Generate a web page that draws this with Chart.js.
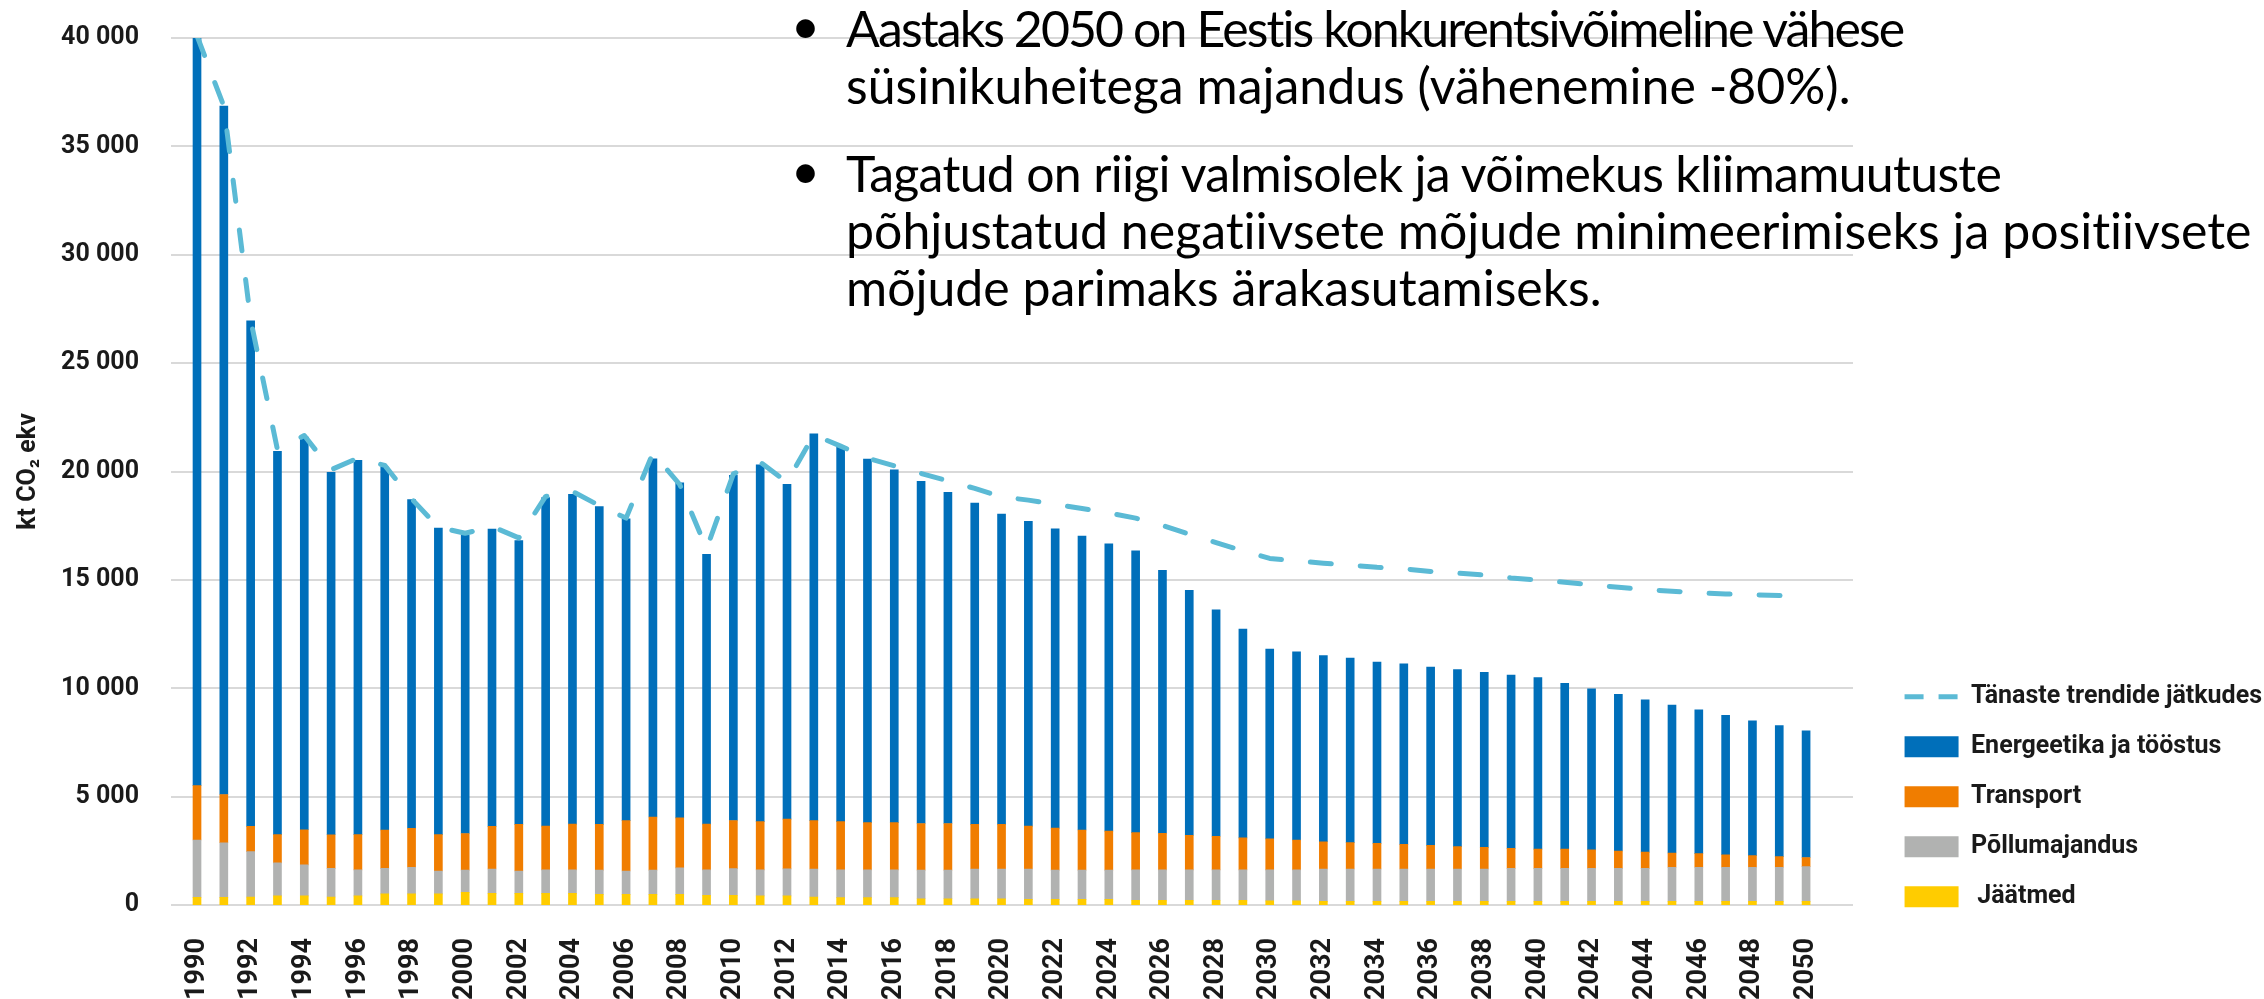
<!DOCTYPE html>
<html lang="et">
<head>
<meta charset="utf-8">
<title>Kasvuhoonegaaside heide</title>
<script src="https://cdn.jsdelivr.net/npm/chart.js@4.4.1/dist/chart.umd.min.js"></script>
<style>
  html, body { margin: 0; padding: 0; background: #fff; overflow: hidden; }
  #wrap { position: relative; width: 2264px; height: 999px; }
  .note { position: absolute; left: 0; font-family: Lato, 'Open Sans', sans-serif; font-size: 50px; line-height: 57px; color: #000; white-space: nowrap; font-variant-ligatures: none; }
  .note .dot { position: absolute; left: 791px; top: -3px; }
  .note .txt { position: absolute; left: 846px; top: 0; }
  .note .tight { letter-spacing: -1.9px; }
  .note .snug { letter-spacing: -0.7px; }
</style>
</head>
<body>
<div id="wrap">
  <canvas id="chart"></canvas>
  <div class="note" style="top:0px">
    <span class="dot">•</span>
    <div class="txt">
      <div class="tight">Aastaks 2050 on Eestis konkurentsivõimeline vähese</div>
      <div>süsinikuheitega majandus (vähenemine -80%).</div>
    </div>
  </div>
  <div class="note" style="top:145px">
    <span class="dot">•</span>
    <div class="txt">
      <div class="snug">Tagatud on riigi valmisolek ja võimekus kliimamuutuste</div>
      <div>põhjustatud negatiivsete mõjude minimeerimiseks ja positiivsete</div>
      <div>mõjude parimaks ärakasutamiseks.</div>
    </div>
  </div>
</div>
<script>
    "use strict";

    const years = [1990, 1991, 1992, 1993, 1994, 1995, 1996, 1997, 1998, 1999,
        2000, 2001, 2002, 2003, 2004, 2005, 2006, 2007, 2008, 2009,
        2010, 2011, 2012, 2013, 2014, 2015, 2016, 2017, 2018, 2019,
        2020, 2021, 2022, 2023, 2024, 2025, 2026, 2027, 2028, 2029,
        2030, 2031, 2032, 2033, 2034, 2035, 2036, 2037, 2038, 2039,
        2040, 2041, 2042, 2043, 2044, 2045, 2046, 2047, 2048, 2049,
        2050];

    const tickYears = [1990, 1992, 1994, 1996, 1998, 2000, 2002, 2004, 2006, 2008,
        2010, 2012, 2014, 2016, 2018, 2020, 2022, 2024, 2026, 2028,
        2030, 2032, 2034, 2036, 2038, 2040, 2042, 2044, 2046, 2048, 2050];

    const yTicks = [0, 5000, 10000, 15000, 20000, 25000, 30000, 35000, 40000];

    // kt CO2 ekv
    const energy = [34490, 31760, 23320, 17680, 18120, 16720, 17260, 16740, 15160, 14140,
        13770, 13710, 13090, 15160, 15220, 14660, 13930, 16520, 15460, 12450,
        15920, 16460, 15450, 17850, 17290, 16770, 16280, 15790, 15280, 14820,
        14310, 14060, 13800, 13560, 13250, 13000, 12130, 11300, 10450, 9630,
        8760, 8680, 8590, 8510, 8370, 8330, 8230, 8170, 8080, 8000,
        7910, 7650, 7430, 7230, 7020, 6820, 6630, 6430, 6220, 6050,
        5850];

    const transport = [2510, 2230, 1170, 1310, 1620, 1550, 1630, 1770, 1800, 1680,
        1690, 1970, 2150, 2020, 2110, 2110, 2320, 2450, 2310, 2110,
        2220, 2230, 2290, 2230, 2230, 2180, 2180, 2150, 2150, 2060,
        2060, 1980, 1940, 1850, 1800, 1720, 1690, 1600, 1550, 1480,
        1430, 1380, 1260, 1220, 1180, 1140, 1090, 1030, 1000, 920,
        890, 890, 850, 800, 750, 660, 630, 580, 540, 490,
        420];

    const agriculture = [2650, 2520, 2090, 1520, 1430, 1320, 1200, 1180, 1230, 1060,
        1030, 1120, 1030, 1080, 1080, 1120, 1080, 1120, 1220, 1170,
        1230, 1200, 1250, 1290, 1280, 1280, 1280, 1320, 1320, 1370,
        1370, 1400, 1350, 1350, 1350, 1400, 1400, 1400, 1400, 1400,
        1430, 1430, 1490, 1490, 1490, 1490, 1490, 1490, 1490, 1520,
        1520, 1520, 1520, 1520, 1520, 1570, 1570, 1570, 1570, 1570,
        1600];

    const waste = [350, 350, 370, 420, 420, 370, 420, 510, 510, 510,
        580, 540, 540, 540, 540, 490, 490, 490, 490, 450,
        450, 420, 420, 370, 340, 340, 340, 290, 290, 290,
        290, 260, 260, 260, 260, 220, 220, 220, 220, 220,
        190, 190, 170, 170, 170, 170, 170, 170, 170, 170,
        170, 170, 170, 170, 170, 170, 170, 170, 170, 170,
        170];

    const trend = [40100, 36850, 27000, 21000, 21660, 20080, 20620, 20280, 18740, 17430,
        17150, 17460, 16940, 18850, 19080, 18430, 17850, 20860, 19400, 16430,
        19890, 20430, 19510, 21690, 21170, 20620, 20260, 19910, 19570, 19220,
        18830, 18680, 18480, 18290, 18090, 17850, 17510, 17110, 16720, 16340,
        15990, 15880, 15770, 15680, 15580, 15510, 15390, 15310, 15220, 15090,
        14990, 14890, 14770, 14660, 14550, 14480, 14400, 14350, 14310, 14280,
        14220];

    // x range of the plot and where the horizontal grid stops
    const xMin = 1989.03;
    const xMax = 2052.74;
    const gridEnd = 2051.75;

    const textColor = '#1a1a1a';

    Chart.defaults.font.family = "Roboto, 'Liberation Sans', sans-serif";
    Chart.defaults.font.weight = 'bold';
    Chart.defaults.color = textColor;

    function toPoints(values) {
        return years.map((year, i) => ({x: year, y: values[i]}));
    }

    function spaced(value) {
        return String(value).replace(/\B(?=(\d{3})+(?!\d))/g, ' ');
    }

    // legend order: line first, then bars from top of the stack down
    const legendRank = {0: 0, 4: 1, 3: 2, 2: 3, 1: 4};

    const gridLines = {
        id: 'gridLines',
        beforeDatasetsDraw(chart) {
            let ctx = chart.ctx;
            let x = chart.scales.x;
            let y = chart.scales.y;
            let left = x.getPixelForValue(xMin);
            let right = x.getPixelForValue(gridEnd);

            ctx.save();
            ctx.strokeStyle = '#d9d9d9';
            ctx.lineWidth = 2;
            for (let tick of y.ticks) {
                let py = Math.round(y.getPixelForValue(tick.value));
                ctx.beginPath();
                ctx.moveTo(left, py);
                ctx.lineTo(right, py);
                ctx.stroke();
            }
            ctx.restore();
        }
    };

    new Chart(document.getElementById('chart'), {
        type: 'bar',
        data: {
            datasets: [
                {
                    type: 'line',
                    label: 'Tänaste trendide jätkudes',
                    data: toPoints(trend),
                    stack: 'trend',
                    borderColor: '#5bbad5',
                    backgroundColor: '#5bbad5',
                    borderWidth: 5,
                    borderDash: [21, 29],
                    borderCapStyle: 'round',
                    borderJoinStyle: 'round',
                    pointRadius: 0,
                    tension: 0,
                    fill: false,
                },
                {
                    label: ' Jäätmed',
                    data: toPoints(waste),
                    stack: 'sectors',
                    backgroundColor: '#ffcc00',
                },
                {
                    label: 'Põllumajandus',
                    data: toPoints(agriculture),
                    stack: 'sectors',
                    backgroundColor: '#b1b2b1',
                },
                {
                    label: 'Transport',
                    data: toPoints(transport),
                    stack: 'sectors',
                    backgroundColor: '#f07d00',
                },
                {
                    label: 'Energeetika ja tööstus',
                    data: toPoints(energy),
                    stack: 'sectors',
                    backgroundColor: '#006fba',
                },
            ]
        },
        options: {
            responsive: true,
            maintainAspectRatio: false,
            devicePixelRatio: 1,
            animation: false,
            datasets: {
                bar: {
                    barThickness: 8,
                    borderWidth: 0,
                },
            },
            layout: {
                padding: {top: 38, left: 0, right: -8, bottom: 0},
            },
            plugins: {
                tooltip: {enabled: false},
                legend: {
                    position: 'right',
                    align: 'start',
                    title: {
                        display: true,
                        text: '',
                        font: {size: 1},
                        padding: {top: 620, bottom: 0},
                    },
                    labels: {
                        usePointStyle: true,
                        pointStyleWidth: 54,
                        boxHeight: 21,
                        padding: 25,
                        color: textColor,
                        font: {size: 25, weight: 'bold'},
                        sort: (a, b) => legendRank[a.datasetIndex] - legendRank[b.datasetIndex],
                        generateLabels(chart) {
                            let items = Chart.defaults.plugins.legend.labels.generateLabels(chart);
                            for (let item of items) {
                                if (item.datasetIndex === 0) {
                                    item.pointStyle = 'line';
                                    item.lineDash = [19, 15];
                                    item.lineCap = 'butt';
                                    item.lineWidth = 5;
                                } else {
                                    item.pointStyle = 'rect';
                                    item.lineWidth = 0;
                                }
                            }
                            return items;
                        },
                    },
                },
            },
            scales: {
                x: {
                    type: 'linear',
                    min: xMin,
                    max: xMax,
                    offset: false,
                    grid: {display: false, tickLength: 8},
                    border: {display: false},
                    afterBuildTicks: (scale) => {
                        scale.ticks = tickYears.map(v => ({value: v}));
                    },
                    afterFit: (scale) => {
                        scale.height = 94;
                    },
                    ticks: {
                        autoSkip: false,
                        minRotation: 90,
                        maxRotation: 90,
                        padding: 25,
                        color: textColor,
                        font: {size: 27, weight: 'bold'},
                        callback: (value) => String(value),
                    },
                },
                y: {
                    min: 0,
                    max: 40000,
                    stacked: true,
                    grid: {display: false, tickLength: 24},
                    border: {display: false},
                    afterBuildTicks: (scale) => {
                        scale.ticks = yTicks.map(v => ({value: v}));
                    },
                    afterFit: (scale) => {
                        scale.width = 171;
                    },
                    ticks: {
                        padding: 8,
                        color: textColor,
                        font: {size: 25, weight: 'bold'},
                        callback: (value) => spaced(value),
                    },
                    title: {
                        display: true,
                        text: 'kt CO₂ ekv',
                        color: textColor,
                        font: {size: 25, weight: 'bold'},
                        padding: {top: 14, bottom: 0},
                    },
                },
            },
        },
        plugins: [gridLines],
    });
</script>
</body>
</html>
